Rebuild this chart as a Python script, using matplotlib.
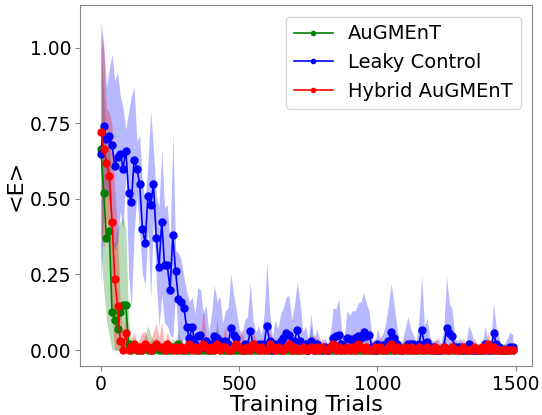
import numpy as np
import matplotlib
matplotlib.use('Agg')
import matplotlib.pyplot as plt

# 训练次数 (每10次一个点)
trials = np.arange(0, 1500, 10)

# AuGMEnT
aug_mean = [0.665, 0.52, 0.37, 0.395, 0.125, 0.10, 0.07, 0.125, 0.148, 0.15,
            0.02, 0.0, 0.01, 0.0, 0.0, 0.0, 0.01, 0.0, 0.0, 0.0,
            0.01, 0.0, 0.0, 0.0, 0.0, 0.0, 0.01, 0.0, 0.02, 0.0,
            0.0, 0.0, 0.0, 0.01, 0.0, 0.0, 0.0, 0.0, 0.0, 0.0,
            0.0, 0.0, 0.01, 0.0, 0.0, 0.0, 0.0, 0.0, 0.0, 0.0,
            0.0, 0.0, 0.0, 0.0, 0.0, 0.0, 0.0, 0.0, 0.0, 0.0,
            0.0, 0.0, 0.0, 0.0, 0.0, 0.0, 0.0, 0.0, 0.0, 0.0,
            0.0, 0.0, 0.0, 0.0, 0.0, 0.0, 0.01, 0.0, 0.0, 0.0,
            0.0, 0.0, 0.0, 0.0, 0.0, 0.0, 0.0, 0.0, 0.0, 0.0,
            0.0, 0.0, 0.0, 0.0, 0.0, 0.0, 0.0, 0.0, 0.0, 0.0,
            0.0, 0.0, 0.0, 0.0, 0.0, 0.0, 0.0, 0.0, 0.0, 0.0,
            0.0, 0.0, 0.0, 0.0, 0.0, 0.0, 0.0, 0.0, 0.0, 0.0,
            0.0, 0.0, 0.0, 0.0, 0.0, 0.0, 0.0, 0.0, 0.0, 0.0,
            0.0, 0.0, 0.0, 0.0, 0.0, 0.0, 0.0, 0.0, 0.0, 0.0,
            0.0, 0.0, 0.0, 0.0, 0.0, 0.0, 0.0, 0.0, 0.0, 0.0]
aug_std = [0.35, 0.32, 0.27, 0.35, 0.25, 0.25, 0.33, 0.30, 0.29, 0.25,
           0.08, 0.02, 0.03, 0.02, 0.02, 0.02, 0.04, 0.08, 0.05, 0.03,
           0.03, 0.02, 0.02, 0.02, 0.02, 0.02, 0.03, 0.02, 0.05, 0.02,
           0.02, 0.02, 0.02, 0.03, 0.02, 0.02, 0.02, 0.02, 0.02, 0.02,
           0.02, 0.03, 0.09, 0.02, 0.02, 0.02, 0.02, 0.02, 0.02, 0.02,
           0.02, 0.02, 0.02, 0.02, 0.02, 0.02, 0.02, 0.02, 0.02, 0.02,
           0.02, 0.02, 0.02, 0.02, 0.02, 0.02, 0.02, 0.02, 0.02, 0.02,
           0.02, 0.02, 0.02, 0.02, 0.02, 0.02, 0.07, 0.02, 0.02, 0.02,
           0.02, 0.02, 0.02, 0.02, 0.02, 0.02, 0.02, 0.02, 0.02, 0.02,
           0.02, 0.02, 0.02, 0.02, 0.02, 0.02, 0.02, 0.02, 0.02, 0.02,
           0.02, 0.02, 0.02, 0.02, 0.02, 0.02, 0.02, 0.02, 0.02, 0.02,
           0.02, 0.02, 0.02, 0.02, 0.02, 0.02, 0.02, 0.02, 0.02, 0.02,
           0.02, 0.02, 0.02, 0.02, 0.02, 0.02, 0.02, 0.02, 0.02, 0.02,
           0.02, 0.02, 0.02, 0.02, 0.02, 0.02, 0.02, 0.02, 0.02, 0.02,
           0.02, 0.02, 0.02, 0.02, 0.02, 0.02, 0.02, 0.02, 0.02, 0.02]

# Leaky Control
leaky_mean = [0.65, 0.74, 0.70, 0.71, 0.68, 0.61, 0.64, 0.65, 0.60, 0.66,
              0.52, 0.49, 0.63, 0.60, 0.55, 0.40, 0.355, 0.51, 0.48, 0.55,
              0.37, 0.275, 0.425, 0.28, 0.28, 0.20, 0.38, 0.26, 0.17, 0.16,
              0.14, 0.075, 0.04, 0.075, 0.02, 0.047, 0.05, 0.01, 0.03, 0.0,
              0.02, 0.046, 0.04, 0.03, 0.01, 0.03, 0.02, 0.072, 0.05, 0.04,
              0.01, 0.0, 0.02, 0.01, 0.064, 0.02, 0.01, 0.02, 0.01, 0.02,
              0.08, 0.03, 0.0, 0.02, 0.01, 0.03, 0.04, 0.057, 0.05, 0.02,
              0.03, 0.066, 0.03, 0.01, 0.02, 0.0, 0.03, 0.0, 0.02, 0.01,
              0.0, 0.01, 0.0, 0.01, 0.04, 0.045, 0.05, 0.02, 0.01, 0.04,
              0.035, 0.03, 0.04, 0.045, 0.04, 0.06, 0.045, 0.05, 0.01, 0.0,
              0.02, 0.01, 0.015, 0.02, 0.03, 0.06, 0.04, 0.02, 0.0, 0.0,
              0.01, 0.02, 0.02, 0.02, 0.0, 0.02, 0.066, 0.02, 0.025, 0.01,
              0.01, 0.0, 0.0, 0.0, 0.01, 0.074, 0.055, 0.045, 0.01, 0.01,
              0.01, 0.0, 0.0, 0.02, 0.01, 0.0, 0.0, 0.0, 0.0, 0.02,
              0.0, 0.0, 0.055, 0.02, 0.01, 0.0, 0.0, 0.0, 0.01, 0.01]
leaky_std = [0.44, 0.27, 0.17, 0.22, 0.30, 0.28, 0.28, 0.19, 0.20, 0.07,
             0.27, 0.35, 0.24, 0.09, 0.16, 0.15, 0.14, 0.11, 0.31, 0.11,
             0.14, 0.20, 0.24, 0.19, 0.20, 0.15, 0.34, 0.07, 0.15, 0.14,
             0.10, 0.12, 0.12, 0.10, 0.10, 0.16, 0.15, 0.11, 0.12, 0.06,
             0.10, 0.17, 0.12, 0.15, 0.08, 0.10, 0.12, 0.18, 0.13, 0.09,
             0.06, 0.05, 0.08, 0.10, 0.16, 0.08, 0.05, 0.06, 0.04, 0.10,
             0.21, 0.10, 0.04, 0.08, 0.06, 0.09, 0.10, 0.12, 0.13, 0.08,
             0.12, 0.16, 0.13, 0.05, 0.06, 0.03, 0.09, 0.03, 0.05, 0.03,
             0.02, 0.03, 0.02, 0.05, 0.10, 0.09, 0.12, 0.05, 0.03, 0.09,
             0.08, 0.10, 0.09, 0.11, 0.12, 0.13, 0.11, 0.08, 0.03, 0.02,
             0.05, 0.03, 0.04, 0.07, 0.12, 0.16, 0.11, 0.06, 0.02, 0.03,
             0.06, 0.09, 0.05, 0.03, 0.03, 0.08, 0.18, 0.06, 0.08, 0.03,
             0.02, 0.03, 0.04, 0.02, 0.06, 0.17, 0.10, 0.09, 0.03, 0.02,
             0.03, 0.02, 0.02, 0.06, 0.05, 0.02, 0.02, 0.02, 0.02, 0.06,
             0.02, 0.03, 0.10, 0.05, 0.03, 0.01, 0.02, 0.04, 0.05, 0.04]

# Hybrid AuGMEnT
hybrid_mean = [0.72, 0.665, 0.62, 0.577, 0.425, 0.235, 0.147, 0.03, 0.0, 0.055,
               0.0, 0.01, 0.02, 0.0, 0.01, 0.0, 0.02, 0.01, 0.0, 0.01,
               0.02, 0.01, 0.01, 0.0, 0.02, 0.01, 0.0, 0.01, 0.0, 0.01,
               0.0, 0.01, 0.02, 0.0, 0.01, 0.0, 0.01, 0.02, 0.01, 0.0,
               0.01, 0.0, 0.02, 0.0, 0.01, 0.01, 0.0, 0.0, 0.01, 0.02,
               0.01, 0.0, 0.0, 0.01, 0.0, 0.02, 0.01, 0.0, 0.01, 0.0,
               0.0, 0.02, 0.01, 0.0, 0.01, 0.0, 0.0, 0.01, 0.02, 0.0,
               0.01, 0.0, 0.0, 0.01, 0.0, 0.0, 0.01, 0.0, 0.01, 0.0,
               0.01, 0.0, 0.0, 0.01, 0.02, 0.0, 0.01, 0.0, 0.0, 0.01,
               0.0, 0.01, 0.0, 0.02, 0.01, 0.0, 0.01, 0.0, 0.0, 0.01,
               0.0, 0.01, 0.0, 0.0, 0.01, 0.02, 0.0, 0.01, 0.0, 0.0,
               0.01, 0.0, 0.01, 0.0, 0.0, 0.01, 0.0, 0.0, 0.01, 0.0,
               0.0, 0.01, 0.0, 0.0, 0.01, 0.0, 0.0, 0.01, 0.0, 0.0,
               0.0, 0.01, 0.0, 0.0, 0.0, 0.01, 0.0, 0.0, 0.01, 0.0,
               0.02, 0.0, 0.01, 0.0, 0.0, 0.0, 0.0, 0.0, 0.0, 0.0]
hybrid_std = [0.33, 0.33, 0.18, 0.21, 0.32, 0.30, 0.25, 0.12, 0.05, 0.10,
              0.02, 0.03, 0.04, 0.02, 0.03, 0.06, 0.04, 0.02, 0.03, 0.05,
              0.07, 0.03, 0.08, 0.02, 0.04, 0.02, 0.02, 0.03, 0.02, 0.03,
              0.02, 0.03, 0.04, 0.02, 0.03, 0.02, 0.03, 0.12, 0.04, 0.02,
              0.03, 0.02, 0.05, 0.02, 0.03, 0.07, 0.02, 0.02, 0.03, 0.04,
              0.03, 0.07, 0.02, 0.03, 0.02, 0.04, 0.03, 0.02, 0.03, 0.02,
              0.02, 0.04, 0.03, 0.02, 0.03, 0.02, 0.02, 0.03, 0.05, 0.02,
              0.03, 0.02, 0.02, 0.03, 0.02, 0.02, 0.03, 0.05, 0.03, 0.02,
              0.03, 0.02, 0.02, 0.03, 0.04, 0.02, 0.03, 0.02, 0.02, 0.03,
              0.02, 0.03, 0.02, 0.04, 0.03, 0.02, 0.03, 0.02, 0.02, 0.03,
              0.02, 0.03, 0.02, 0.02, 0.03, 0.04, 0.02, 0.03, 0.02, 0.02,
              0.03, 0.02, 0.03, 0.02, 0.02, 0.03, 0.02, 0.02, 0.03, 0.02,
              0.02, 0.03, 0.02, 0.02, 0.03, 0.02, 0.02, 0.03, 0.02, 0.02,
              0.02, 0.03, 0.02, 0.02, 0.02, 0.03, 0.02, 0.02, 0.03, 0.02,
              0.04, 0.02, 0.03, 0.02, 0.02, 0.02, 0.02, 0.02, 0.02, 0.02]

series = [
    ('AuGMEnT', aug_mean, aug_std, 'green'),
    ('Leaky Control', leaky_mean, leaky_std, 'blue'),
    ('Hybrid AuGMEnT', hybrid_mean, hybrid_std, 'red'),
]

fig = plt.figure(figsize=(5.42, 4.15), dpi=100)
ax = fig.add_axes([0.148, 0.118, 0.834, 0.870])

for name, m, s, c in series:
    m = np.array(m)
    s = np.array(s)
    ax.fill_between(trials, np.clip(m - s, 0, None), m + s, color=c, alpha=0.28, linewidth=0)
    ax.plot(trials, m, '-o', color=c, lw=1.2, markersize=5, label=name)

ax.set_xlim(-75, 1560)
ax.set_ylim(-0.053, 1.142)
ax.set_xticks([0, 500, 1000, 1500])
ax.set_yticks([0.0, 0.25, 0.5, 0.75, 1.0])
ax.tick_params(labelsize=13.5, colors='#888888', labelcolor='black', pad=3)
for sp in ax.spines.values():
    sp.set_color('#888888')

ax.set_xlabel('Training Trials', fontsize=16, labelpad=1)
ax.set_ylabel('<E>', fontsize=16, labelpad=3)

ax.legend(loc='upper right', fontsize=14, markerscale=0.6, handlelength=2.0,
          borderaxespad=0.6)

fig.savefig('out.png', dpi=100)
